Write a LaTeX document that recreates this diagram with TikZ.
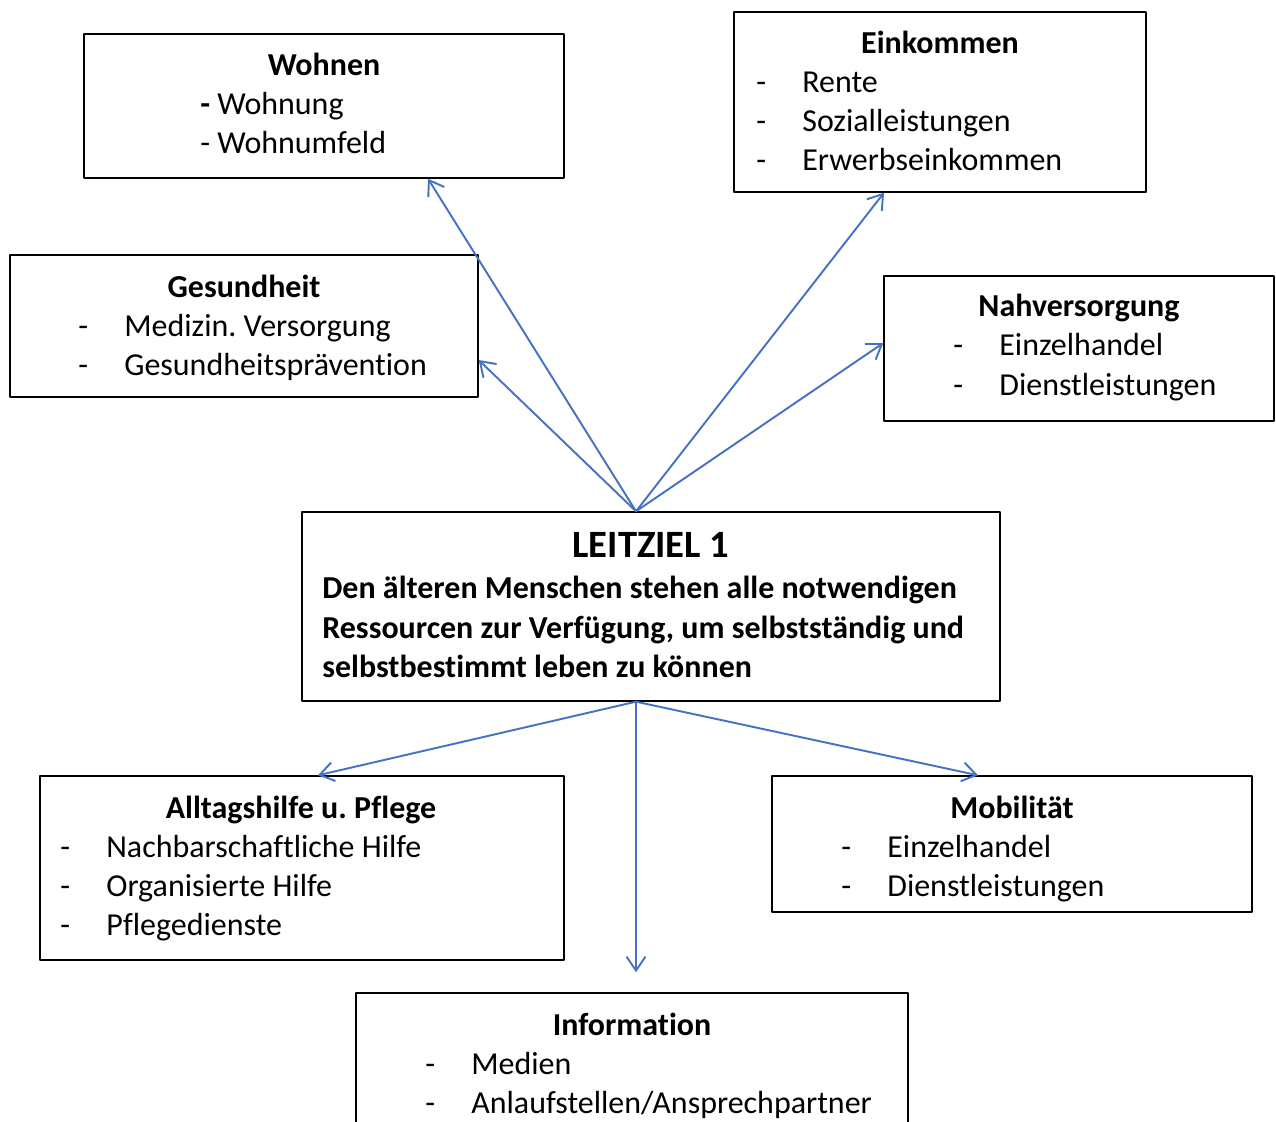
\documentclass[tikz,border=0pt]{standalone}
\usepackage{fontspec}
\setmainfont{Carlito}[Ligatures=NoCommon]
\usetikzlibrary{arrows.meta,fit}
\definecolor{arrowblue}{RGB}{68,114,196}
\frenchspacing

\newcommand{\dashitem}[1]{\makebox[0.92cm][l]{-}#1}

\tikzset{
  box/.style={draw=black, line width=0.8pt, inner sep=0pt},
  head/.style={font=\fontsize{18.2}{22}\selectfont\bfseries, anchor=mid, yshift=-0.12cm},
  item/.style={font=\fontsize{18.2}{22}\selectfont, anchor=mid west, inner sep=0pt, yshift=-0.12cm},
  link/.style={-{Straight Barb[length=0.28cm, width=0.38cm]}, arrowblue, line width=1.1pt},
}

\begin{document}
\begin{tikzpicture}[line cap=round,line join=round,x=0.02cm,y=-0.02cm]

    \useasboundingbox (0,0) rectangle (1276,1122);
    \clip (0,0) rectangle (1276,1122);

    % boxes
    \node[box, fit={(84,34) (564,178)}] (wohnen) {};
    \node[box, fit={(734,12) (1146,192)}] (einkommen) {};
    \node[box, fit={(10,255) (478,397)}] (gesundheit) {};
    \node[box, fit={(884,276) (1274,421)}] (nahvers) {};
    \node[box, fit={(302,512) (1000,701)}] (leit) {};
    \node[box, fit={(40,776) (564,960)}] (alltag) {};
    \node[box, fit={(772,776) (1252,912)}] (mobil) {};
    \node[box, fit={(356,993) (908,1180)}] (info) {};

    % Wohnen
    \node[head] (wohnenT) at (324,65) {Wohnen};
    \node[item] (wohnen1) at (200,104) {\textbf{-} Wohnung};
    \node[item] (wohnen2) at (200,143) {- Wohnumfeld};

    % Einkommen
    \node[head] (einkommenT) at (940,43) {Einkommen};
    \node[item] (einkommen1) at (756,82) {\dashitem{Rente}};
    \node[item] (einkommen2) at (756,121) {\dashitem{Sozialleistungen}};
    \node[item] (einkommen3) at (756,160) {\dashitem{Erwerbseinkommen}};

    % Gesundheit
    \node[head] (gesundheitT) at (244,287) {Gesundheit};
    \node[item] (gesundheit1) at (78,326) {\dashitem{Medizin. Versorgung}};
    \node[item] (gesundheit2) at (78,365) {\dashitem{Gesundheitsprävention}};

    % Nahversorgung
    \node[head] (nahversT) at (1079,306) {Nahversorgung};
    \node[item] (nahvers1) at (953,345) {\dashitem{Einzelhandel}};
    \node[item] (nahvers2) at (953,385) {\dashitem{Dienstleistungen}};

    % Leitziel
    \node[head, font=\fontsize{22}{26}\selectfont\bfseries] (leitT) at (651,547) {LEITZIEL 1};
    \node[item, font=\fontsize{18.2}{22}\selectfont\bfseries] (leit1) at (322,588) {Den älteren Menschen stehen alle notwendigen};
    \node[item, font=\fontsize{18.2}{22}\selectfont\bfseries] (leit2) at (322,628) {Ressourcen zur Verfügung, um selbstständig und};
    \node[item, font=\fontsize{18.2}{22}\selectfont\bfseries] (leit3) at (322,667) {selbstbestimmt leben zu können};

    % Alltagshilfe
    \node[head] (alltagT) at (301,808) {Alltagshilfe u. Pflege};
    \node[item] (alltag1) at (60,847) {\dashitem{Nachbarschaftliche Hilfe}};
    \node[item] (alltag2) at (60,886) {\dashitem{Organisierte Hilfe}};
    \node[item] (alltag3) at (60,925) {\dashitem{Pflegedienste}};

    % Mobilitaet
    \node[head] (mobilT) at (1012,808) {Mobilität};
    \node[item] (mobil1) at (841,847) {\dashitem{Einzelhandel}};
    \node[item] (mobil2) at (841,886) {\dashitem{Dienstleistungen}};

    % Information
    \node[head] (infoT) at (632,1025) {Information};
    \node[item] (info1) at (425,1064) {\dashitem{Medien}};
    \node[item] (info2) at (425,1103) {\dashitem{Anlaufstellen/Ansprechpartner}};

    % arrows
    \coordinate (hub) at ([xshift=-0.3cm]leit.north);
    \coordinate (foot) at ([xshift=-0.3cm]leit.south);
    \draw[link] (hub) -- ([xshift=2.08cm]wohnen.south);
    \draw[link] (hub) -- ([yshift=-0.68cm]gesundheit.east);
    \draw[link] (hub) -- ([xshift=-1.12cm]einkommen.south);
    \draw[link] (hub) -- ([yshift=0.11cm]nahvers.west);
    \draw[link] (foot) -- ([xshift=0.32cm]alltag.north);
    \draw[link] (foot) -- ([xshift=-0.68cm]mobil.north);
    \draw[link] (foot) -- ([xshift=0.08cm, yshift=0.4cm]info.north);
\end{tikzpicture}
\end{document}
